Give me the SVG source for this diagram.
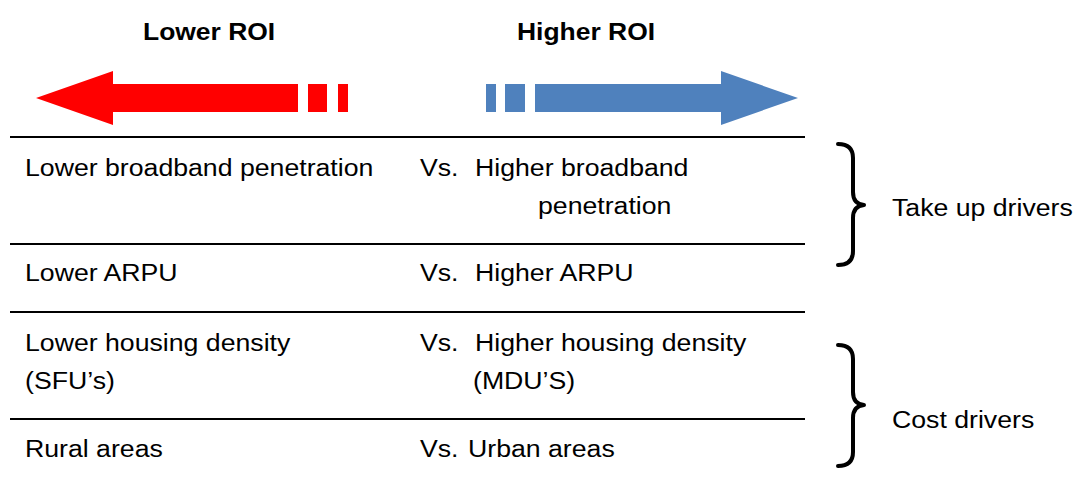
<svg xmlns="http://www.w3.org/2000/svg" width="1078" height="480" viewBox="0 0 1078 480">
<style>
.t{font-family:"Liberation Sans",Arial,sans-serif;font-size:23px;fill:#000}
.h{font-family:"Liberation Sans",Arial,sans-serif;font-size:23px;font-weight:bold;fill:#000}
.rule{stroke:#000;stroke-width:2;fill:none}
.br{stroke:#000;stroke-width:4;fill:none;stroke-linecap:round;stroke-linejoin:round}
.red{fill:#FF0000}
.blue{fill:#4F81BD}
</style>
<rect width="1078" height="480" fill="#fff"/>
<g id="header-lower">
<text class="h" transform="translate(143 40) scale(1.15 1)">Lower ROI</text>
<polygon class="red" points="36,98 113,71 113,84 298,84 298,112 113,112 113,125"/>
<rect class="red" x="308" y="84" width="19" height="28"/>
<rect class="red" x="338" y="84" width="10" height="28"/>
</g>
<g id="header-higher">
<text class="h" transform="translate(517 40) scale(1.15 1)">Higher ROI</text>
<rect class="blue" x="486" y="84" width="10" height="28"/>
<rect class="blue" x="505" y="84" width="20" height="28"/>
<polygon class="blue" points="535,84 721,84 721,71 798,98 721,125 721,112 535,112"/>
</g>
<g id="rules">
<line class="rule" x1="10" y1="137" x2="805" y2="137"/>
<line class="rule" x1="10" y1="244" x2="805" y2="244"/>
<line class="rule" x1="10" y1="312" x2="805" y2="312"/>
<line class="rule" x1="10" y1="419" x2="805" y2="419"/>
</g>
<g id="row1">
<text class="t" transform="translate(25 176) scale(1.16 1)">Lower broadband penetration</text>
<text class="t" transform="translate(420 176) scale(1.16 1)">Vs.</text>
<text class="t" transform="translate(475 176) scale(1.16 1)">Higher broadband</text>
<text class="t" transform="translate(538 214) scale(1.16 1)">penetration</text>
</g>
<g id="row2">
<text class="t" transform="translate(25 281) scale(1.16 1)">Lower ARPU</text>
<text class="t" transform="translate(420 281) scale(1.16 1)">Vs.</text>
<text class="t" transform="translate(475 281) scale(1.16 1)">Higher ARPU</text>
</g>
<g id="row3">
<text class="t" transform="translate(25 351) scale(1.16 1)">Lower housing density</text>
<text class="t" transform="translate(25 389) scale(1.16 1)">(SFU’s)</text>
<text class="t" transform="translate(420 351) scale(1.16 1)">Vs.</text>
<text class="t" transform="translate(475 351) scale(1.16 1)">Higher housing density</text>
<text class="t" transform="translate(473 389) scale(1.16 1)">(MDU’S)</text>
</g>
<g id="row4">
<text class="t" transform="translate(25 457) scale(1.16 1)">Rural areas</text>
<text class="t" transform="translate(420 457) scale(1.16 1)">Vs.</text>
<text class="t" transform="translate(468 457) scale(1.16 1)">Urban areas</text>
</g>
<g id="take-up">
<path class="br" d="M838,144 Q853,144 853,158 L853,192 Q853,204 864,205 Q853,206 853,218 L853,251 Q853,265 838,265"/>
<text class="t" transform="translate(892 216) scale(1.16 1)">Take up drivers</text>
</g>
<g id="cost">
<path class="br" d="M838,345 Q853,345 853,359 L853,392 Q853,404 864,405 Q853,406 853,418 L853,452 Q853,466 838,466"/>
<text class="t" transform="translate(892 428) scale(1.16 1)">Cost drivers</text>
</g>
</svg>
